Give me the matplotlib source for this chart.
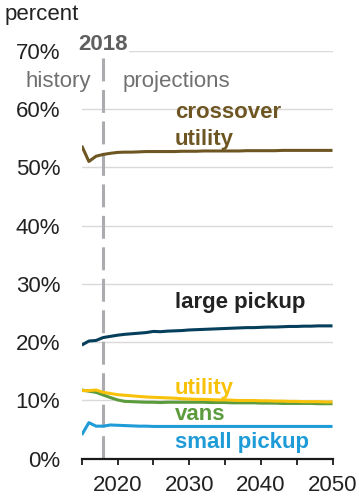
import matplotlib
matplotlib.use("Agg")
import matplotlib.pyplot as plt
import numpy as np

plt.rcParams['font.family'] = ['Liberation Sans', 'DejaVu Sans']

years = list(range(2015, 2051))

crossover_utility = [53.7, 51.0, 51.9, 52.2, 52.4, 52.55, 52.6, 52.6, 52.65, 52.7, 52.7, 52.7,
                     52.7, 52.7, 52.75, 52.75, 52.75, 52.8, 52.8, 52.8, 52.8, 52.8, 52.8, 52.85,
                     52.85, 52.85, 52.85, 52.85, 52.9, 52.9, 52.9, 52.9, 52.9, 52.9, 52.9, 52.9]
large_pickup = [19.5, 20.2, 20.3, 20.8, 21.0, 21.2, 21.35, 21.45, 21.55, 21.65, 21.85, 21.8,
                21.9, 21.95, 22.0, 22.1, 22.15, 22.2, 22.25, 22.3, 22.35, 22.4, 22.45, 22.5,
                22.5, 22.55, 22.6, 22.6, 22.65, 22.7, 22.7, 22.75, 22.75, 22.8, 22.8, 22.8]
utility = [11.7, 11.7, 11.8, 11.4, 11.2, 11.0, 10.9, 10.8, 10.7, 10.6, 10.55, 10.5,
           10.45, 10.4, 10.3, 10.25, 10.2, 10.2, 10.15, 10.1, 10.1, 10.05, 10.0, 10.0,
           10.0, 9.95, 9.95, 9.9, 9.9, 9.85, 9.85, 9.8, 9.8, 9.8, 9.75, 9.75]
vans = [11.8, 11.6, 11.4, 10.95, 10.5, 10.1, 9.85, 9.8, 9.75, 9.7, 9.7, 9.65,
        9.7, 9.7, 9.7, 9.7, 9.7, 9.7, 9.65, 9.65, 9.65, 9.6, 9.6, 9.6,
        9.6, 9.55, 9.55, 9.55, 9.5, 9.5, 9.5, 9.5, 9.5, 9.45, 9.45, 9.45]
small_pickup = [4.1, 6.2, 5.6, 5.6, 5.8, 5.75, 5.7, 5.65, 5.6, 5.6, 5.55, 5.55,
                5.55, 5.55, 5.55, 5.55, 5.55, 5.55, 5.55, 5.55, 5.55, 5.55, 5.55, 5.55,
                5.55, 5.55, 5.55, 5.55, 5.55, 5.55, 5.55, 5.55, 5.55, 5.55, 5.55, 5.55]

yticks = [0, 10, 20, 30, 40, 50, 60, 70]
ytick_labels = ['0%', '10%', '20%', '30%', '40%', '50%', '60%', '70%']
xticks_major = [2020, 2030, 2040, 2050]
xticks_minor = [2015, 2025, 2035, 2045]
split_year = 2018

c_cross = '#6E5622'
c_large = '#063F5C'
c_util = '#F9C20A'
c_vans = '#5B9B3D'
c_small = '#1F9BD7'

fig = plt.figure(figsize=(3.59, 4.96), dpi=100)
ax = fig.add_axes([0.2276, 0.075, 0.6986, 0.8228])
ax.set_xlim(2015, 2050)
ax.set_ylim(0, 70)

for yv in yticks[1:]:
    ax.axhline(yv, color='#D9D9D9', lw=1.0, zorder=1)

ax.plot([split_year, split_year], [68.7, 0], color='#ABABB0', lw=2.2,
        dashes=(7.5, 2.8), zorder=2)

lw = 2.2
ax.plot(years, crossover_utility, color=c_cross, lw=lw, zorder=4, solid_capstyle='butt')
ax.plot(years, large_pickup, color=c_large, lw=lw, zorder=4, solid_capstyle='butt')
ax.plot(years, vans, color=c_vans, lw=lw, zorder=4, solid_capstyle='butt')
ax.plot(years, utility, color=c_util, lw=lw, zorder=5, solid_capstyle='butt')
ax.plot(years, small_pickup, color=c_small, lw=lw, zorder=4, solid_capstyle='butt')

for s in ['top', 'right', 'left']:
    ax.spines[s].set_visible(False)
ax.spines['bottom'].set_linewidth(1.6)
ax.spines['bottom'].set_color('#1a1a1a')

ax.set_yticks(yticks)
ax.set_yticklabels(ytick_labels)
ax.tick_params(axis='y', length=0, pad=15.5, labelsize=16, labelcolor='#222222')
ax.set_xticks(xticks_major)
ax.set_xticks(xticks_minor, minor=True)
ax.tick_params(axis='x', which='both', direction='out', length=4, width=1.3,
               color='#1a1a1a', labelsize=16, labelcolor='#222222', pad=7.5)

fs = 16
ax.text(2028, 58.5, 'crossover', color=c_cross, fontsize=fs, fontweight='bold', zorder=6)
ax.text(2028, 53.8, 'utility', color=c_cross, fontsize=fs, fontweight='bold', zorder=6)
ax.text(2028, 25.9, 'large pickup', color='#222222', fontsize=fs, fontweight='bold', zorder=6)
ax.text(2028, 11.2, 'utility', color=c_util, fontsize=fs, fontweight='bold', zorder=6)
ax.text(2028, 6.65, 'vans', color=c_vans, fontsize=fs, fontweight='bold', zorder=6)
ax.text(2028, 1.8, 'small pickup', color=c_small, fontsize=fs, fontweight='bold', zorder=6)

ax.text(split_year, 70.1, '2018', color='#5F5F5F', fontsize=fs, fontweight='bold',
        ha='center', va='baseline', zorder=6,
        bbox=dict(facecolor='white', edgecolor='none', pad=1.0))
ax.text(2016.25, 63.8, 'history', color='#707070', fontsize=fs, ha='right', va='baseline', zorder=6)
ax.text(2020.7, 63.8, 'projections', color='#707070', fontsize=fs, ha='left', va='baseline', zorder=6)

fig.text(5 / 359, (496 - 20) / 496, 'percent', fontsize=fs, color='#222222',
         ha='left', va='baseline')

fig.savefig('out.png', dpi=100)
